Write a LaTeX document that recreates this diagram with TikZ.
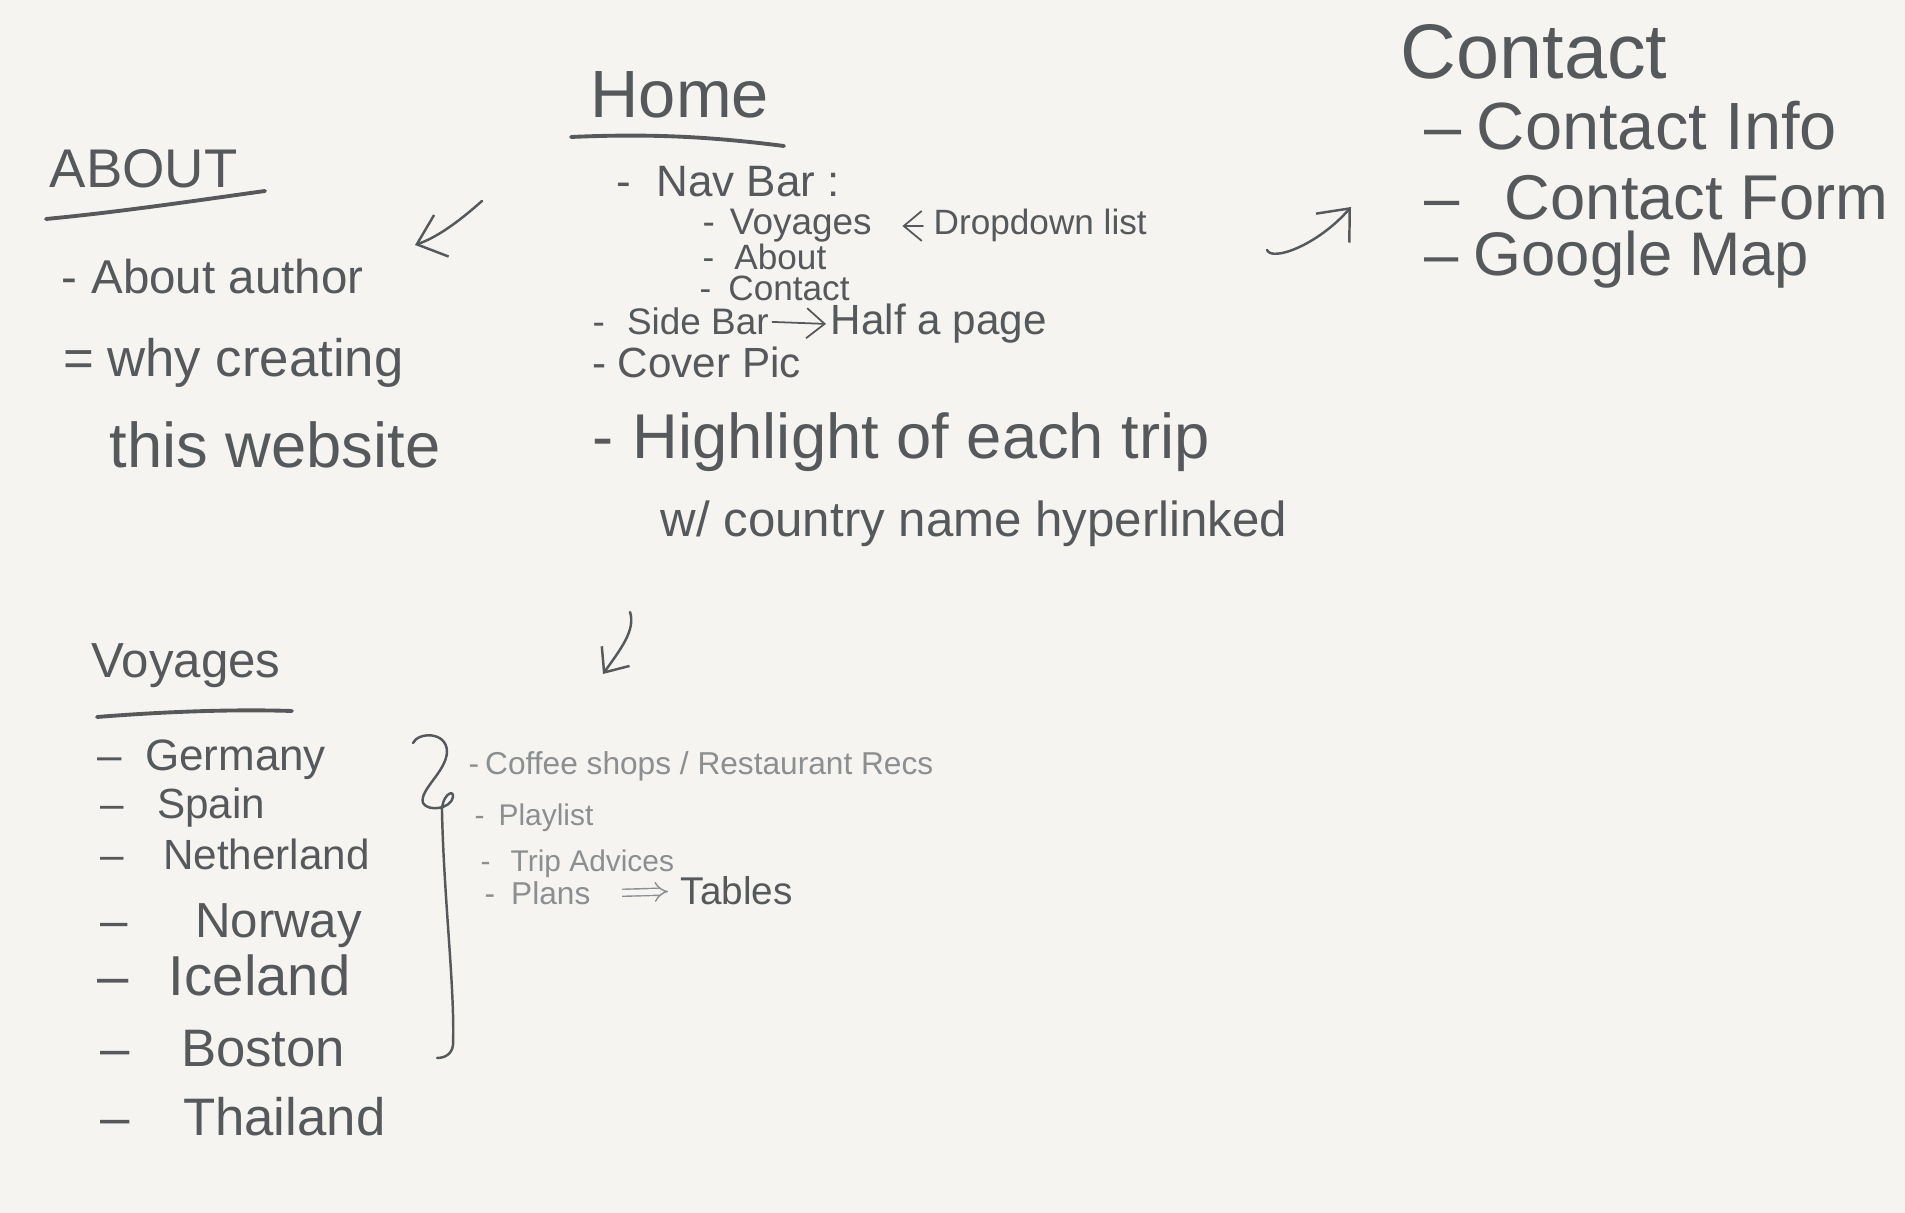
\documentclass[tikz,border=0pt]{standalone}
\usepackage{fontspec}
\setmainfont{Liberation Sans}
\usepackage{tikz}
\usepackage{xcolor}
\usetikzlibrary{arrows.meta}
\definecolor{paper}{HTML}{F6F4F0}
\definecolor{ink}{HTML}{55595B}
\definecolor{inkpale}{HTML}{8C8F90}
\newcommand{\inksz}[1]{\fontsize{#1}{#1}\selectfont}
\tikzset{
  handtext/.style={anchor=base west,inner sep=0pt,text=ink},
  paletext/.style={anchor=base west,inner sep=0pt,text=inkpale},
  pen/.style={draw=ink,line width=0.7pt,line cap=round,line join=round},
  underline/.style={pen,line width=1.1pt},
  penarrow/.style={pen,-{Straight Barb[length=2.6mm,width=4.4mm]}},
  thinarrow/.style={pen,line width=0.5pt,-{Straight Barb[length=1.8mm,width=3mm]}},
  implyarrow/.style={draw=inkpale,line width=0.4pt,double=paper,double distance=1.6pt,-{Implies}}
}

\begin{document}
\begin{tikzpicture}[x=0.01cm,y=-0.01cm]
  \fill[paper] (0,0) rectangle (1905,1213);
  \useasboundingbox (0,0) rectangle (1905,1213);

  % home page
  \node[handtext,font=\inksz{19pt}] (home) at (590,118) {Home};
  \draw[underline] (571,137) .. controls (660,133) and (720,138) .. (784,146);
  \node[handtext,font=\inksz{12.5pt}] (navbar) at (616,197) {-\hspace{2.5mm}Nav Bar :};
  \node[handtext,font=\inksz{10.5pt}] (navvoy) at (702,235) {-\hspace{1.5mm}Voyages};
  \node[handtext,font=\inksz{10pt}] (dropdown) at (933,235) {Dropdown list};
  \node[handtext,font=\inksz{10pt}] (navabout) at (702,270) {-\hspace{2mm}About};
  \node[handtext,font=\inksz{10pt}] (navcontact) at (699,301) {-\hspace{1.7mm}Contact};
  \node[handtext,font=\inksz{10.5pt}] (sidebar) at (592,335) {-\hspace{2.2mm}Side Bar};
  \node[handtext,font=\inksz{12pt}] (halfpage) at (830,335) {Half a page};
  \node[handtext,font=\inksz{12pt}] (cover) at (592,378) {-\hspace{1.1mm}Cover Pic};
  \node[handtext,font=\inksz{18pt}] (highlight) at (592,459) {-\hspace{1.9mm}Highlight of each trip};
  \node[handtext,font=\inksz{14pt}] (hyperlink) at (660,537) {w/ country name hyperlinked};
  \draw[thinarrow,shorten <=1mm,shorten >=3mm] (dropdown.west) -- (navvoy.east);
  \draw[thinarrow,shorten <=0.3mm,shorten >=0.4mm] (sidebar.east) -- (halfpage.west);

  % about page
  \node[handtext,font=\inksz{15.5pt}] (about) at (49,188) {ABOUT};
  \draw[underline] (46,219) .. controls (120,212) and (200,200) .. (265,191);
  \node[handtext,font=\inksz{13.5pt}] (author) at (61,294) {-\hspace{1.4mm}About author};
  \node[handtext,font=\inksz{15pt}] (why) at (63,377) {=\hspace{1.3mm}why creating};
  \node[handtext,font=\inksz{18pt}] (website) at (109,468) {this website};

  % contact page
  \node[handtext,font=\inksz{22pt}] (contact) at (1400,79) {Contact};
  \node[handtext,font=\inksz{19pt}] (info) at (1424,150) {\textendash\hspace{1.5mm}Contact Info};
  \node[handtext,font=\inksz{18pt}] (form) at (1424,220) {\textendash\hspace{4.5mm}Contact Form};
  \node[handtext,font=\inksz{17.5pt}] (map) at (1424,276) {\textendash\hspace{1.5mm}Google Map};

  % voyages page
  \node[handtext,font=\inksz{14pt}] (voyages) at (91,678) {Voyages};
  \draw[underline] (97,717) .. controls (160,712) and (230,709) .. (292,711);
  \node[handtext,font=\inksz{12.5pt}] (germany) at (97,771) {\textendash\hspace{2.3mm}Germany};
  \node[handtext,font=\inksz{12pt}] (spain) at (100,819) {\textendash\hspace{3.3mm}Spain};
  \node[handtext,font=\inksz{12pt}] (netherland) at (100,870) {\textendash\hspace{3.9mm}Netherland};
  \node[handtext,font=\inksz{14pt}] (norway) at (100,938) {\textendash\hspace{6.7mm}Norway};
  \node[handtext,font=\inksz{16pt}] (iceland) at (97,996) {\textendash\hspace{4mm}Iceland};
  \node[handtext,font=\inksz{15pt}] (boston) at (100,1067) {\textendash\hspace{5.1mm}Boston};
  \node[handtext,font=\inksz{15pt}] (thailand) at (100,1136) {\textendash\hspace{5.3mm}Thailand};

  % brace round the countries
  \draw[pen] (413,743) .. controls (418,732) and (447,731) .. (447,752)
    .. controls (446,772) and (419,790) .. (423,803)
    .. controls (428,812) and (451,809) .. (453,797)
    .. controls (454,788) and (441,796) .. (442,812)
    .. controls (444,900) and (455,990) .. (453,1045)
    .. controls (452,1054) and (445,1058) .. (437,1058);

  % what each trip page holds
  \node[paletext,font=\inksz{9pt}] (coffee) at (468,775) {-\hspace{0.6mm}Coffee shops / Restaurant Recs};
  \node[paletext,font=\inksz{8.5pt}] (playlist) at (474,826) {-\hspace{1.4mm}Playlist};
  \node[paletext,font=\inksz{8.5pt}] (advices) at (480,872) {-\hspace{2mm}Trip Advices};
  \node[paletext,font=\inksz{9pt}] (plans) at (484,905) {-\hspace{1.6mm}Plans};
  \node[handtext,font=\inksz{11pt}] (tables) at (680,905) {Tables};
  \draw[implyarrow,shorten <=3.1mm,shorten >=1.2mm] (plans.east) -- (tables.west);

  % links between the pages
  \coordinate (aboutout) at (482,201);
  \coordinate (aboutin) at (415,245);
  \draw[penarrow] (aboutout) .. controls (455,225) and (435,238) .. (aboutin);
  \coordinate (contactout) at (1267,250);
  \coordinate (contactin) at (1351,207);
  \draw[penarrow] (contactout) .. controls (1272,262) and (1318,245) .. (contactin);
  \coordinate (voyout) at (630,612);
  \coordinate (voyin) at (603,674);
  \draw[penarrow,-{Straight Barb[length=2mm,width=3.4mm]}] (voyout) .. controls (636,630) and (620,650) .. (voyin);
\end{tikzpicture}
\end{document}
